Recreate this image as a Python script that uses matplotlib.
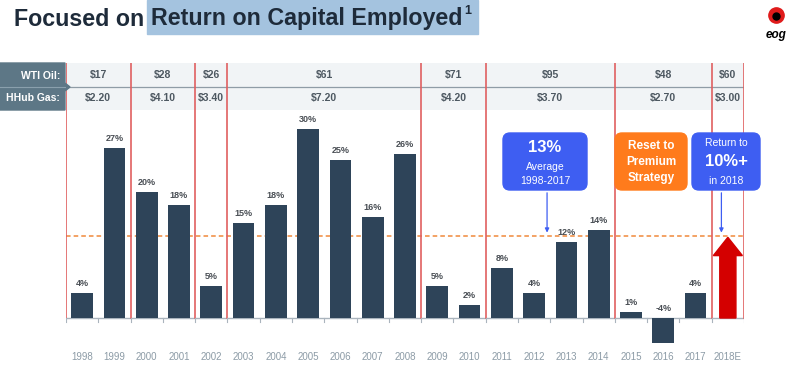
import matplotlib
matplotlib.use('Agg')
import matplotlib.pyplot as plt
from matplotlib.patches import FancyBboxPatch, Rectangle, Polygon

plt.rcParams['font.family'] = ['Liberation Sans', 'DejaVu Sans']

# ---- data ----
years = ['1998', '1999', '2000', '2001', '2002', '2003', '2004', '2005', '2006', '2007',
         '2008', '2009', '2010', '2011', '2012', '2013', '2014', '2015', '2016', '2017', '2018E']
roce = [4, 27, 20, 18, 5, 15, 18, 30, 25, 16, 26, 5, 2, 8, 4, 12, 14, 1, -4, 4]
roce_2018_target = 12.8
average_roce = 13

# price regimes: first year index of each group (last entry = end)
group_edges = [0, 2, 4, 5, 11, 13, 17, 20, 21]
wti_oil = ['$17', '$28', '$26', '$61', '$71', '$95', '$48', '$60']
hhub_gas = ['$2.20', '$4.10', '$3.40', '$7.20', '$4.20', '$3.70', '$2.70', '$3.00']

W, H = 805, 367
fig = plt.figure(figsize=(W / 100, H / 100), dpi=100)

def fx(x):
    return x / W

def fy(y):
    return 1 - y / H

BAR = '#2e4459'
RED_LINE = '#e06060'
LABEL = '#4a4f55'
NAVY = '#1e2b3a'

# ---- main bar axes ----
ax = fig.add_axes([fx(66), fy(348), fx(744) - fx(66), fy(110) - fy(348)])
x = list(range(len(years)))
ax.bar(x[:-1], roce, width=0.67, color=BAR, zorder=2)
for xi, v in zip(x, roce):
    ax.text(xi, max(v, 0) + 0.8, f'{v}%', ha='center', va='bottom',
            fontsize=6.5, fontweight='bold', color=LABEL)

# 2018E arrow
ax.arrow(x[-1], 0, 0, roce_2018_target, width=0.5, head_width=0.9,
         head_length=2.9, length_includes_head=True, color='#d40000', zorder=3)

ax.set_xlim(-0.5, len(years) - 0.5)
ax.set_ylim(-4.76, 33.0)
ax.axhline(0, color='#aab4bd', lw=1, zorder=1)
ax.axhline(average_roce, color='#f0893a', ls=(0, (3, 2)), lw=1.1, zorder=1)
for b in range(len(years) + 1):
    ax.plot([b - 0.5, b - 0.5], [0, -0.6], color='#aab4bd', lw=0.8)
for e in group_edges:
    ax.plot([e - 0.5, e - 0.5], [0, 33.0], color=RED_LINE, lw=1.2, zorder=1)

ax.set_xticks(x)
ax.set_xticklabels(years, fontsize=7, color='#8c9ba6')
ax.tick_params(axis='x', length=0, pad=3)
ax.set_yticks([])
for s in ax.spines.values():
    s.set_visible(False)

# ---- price header ----
hx = fig.add_axes([fx(66), fy(110), fx(744) - fx(66), fy(63) - fy(110)])
hx.set_xlim(-0.5, len(years) - 0.5)
hx.set_ylim(0, 2)
hx.add_patch(Rectangle((-0.5, 0), len(years), 2, color='#f1f4f6', zorder=0))
hx.axhline(1, color='#8f9ca6', lw=0.9)
for e in group_edges:
    hx.axvline(e - 0.5, color=RED_LINE, lw=1.2)
for i in range(len(wti_oil)):
    c = (group_edges[i] + group_edges[i + 1] - 1) / 2
    hx.text(c, 1.5, wti_oil[i].replace('$', r'\$'), ha='center', va='center',
            fontsize=7.5, fontweight='bold', color='#4d5861')
    hx.text(c, 0.5, hhub_gas[i].replace('$', r'\$'), ha='center', va='center',
            fontsize=7.5, fontweight='bold', color='#4d5861')
hx.axis('off')

# ---- overlay in pixel coords for title, labels, callouts ----
ov = fig.add_axes([0, 0, 1, 1], zorder=5)
ov.set_xlim(0, W)
ov.set_ylim(H, 0)
ov.axis('off')
ov.patch.set_alpha(0)

# title: size so the full line spans ~448 px, then place the highlighted part after the first
renderer = fig.canvas.get_renderer()
probe = ov.text(0, 0, 'Focused on Return on Capital Employed', fontsize=20, fontweight='bold')
fs = 20 * 448 / probe.get_window_extent(renderer).width
probe.remove()
t1 = ov.text(14, 19, 'Focused on ', fontsize=fs, fontweight='bold', color=NAVY,
             va='center', ha='left')
w1 = t1.get_window_extent(renderer).width
t2 = ov.text(14 + w1, 19, 'Return on Capital Employed', fontsize=fs, fontweight='bold',
             color=NAVY, va='center', ha='left')
w2 = t2.get_window_extent(renderer).width
ov.add_patch(Rectangle((14 + w1 - 4, 0), w2 + 20, 34, color='#a4c3df', zorder=0))
ov.text(14 + w1 + w2 + 2, 11, '1', fontsize=fs * 0.55, fontweight='bold', color=NAVY,
        va='center', ha='left')

# logo
ov.plot([776], [15], marker='o', ms=11, color='#e01b1b')
ov.plot([776], [16], marker='o', ms=5, color='black')
ov.text(776, 35, 'eog', fontsize=8.5, fontweight='bold', style='italic', ha='center',
        va='center', color='black')

# left header label box
ov.add_patch(Polygon([(0, 63), (65, 63), (65, 83), (70, 87), (65, 91), (65, 110), (0, 110)],
                     closed=True, color='#5d7786'))
ov.plot([0, 65], [87, 87], color='#8aa0ad', lw=0.8)
ov.text(60, 76, 'WTI Oil:', fontsize=7.5, fontweight='bold', color='white', ha='right', va='center')
ov.text(60, 98, 'HHub Gas:', fontsize=7.5, fontweight='bold', color='white', ha='right', va='center')

# callouts
BLUE = '#3e5ef2'
ORANGE = '#ff7b1c'
for (x0, x1, col) in [(503, 587, BLUE), (615, 687, ORANGE), (692, 760, BLUE)]:
    ov.add_patch(FancyBboxPatch((x0, 133), x1 - x0, 57,
                                boxstyle='round,pad=0,rounding_size=7', color=col))
ov.text(545, 148, '13%', fontsize=12, fontweight='bold', color='white', ha='center', va='center')
ov.text(545, 167, 'Average', fontsize=7.5, color='white', ha='center', va='center')
ov.text(545, 181, '1998-2017', fontsize=7.5, color='white', ha='center', va='center')
ov.text(651, 146, 'Reset to', fontsize=8.5, fontweight='bold', color='white', ha='center', va='center')
ov.text(651, 162, 'Premium', fontsize=8.5, fontweight='bold', color='white', ha='center', va='center')
ov.text(651, 178, 'Strategy', fontsize=8.5, fontweight='bold', color='white', ha='center', va='center')
ov.text(726, 143, 'Return to', fontsize=7.5, color='white', ha='center', va='center')
ov.text(726, 162, '10%+', fontsize=12, fontweight='bold', color='white', ha='center', va='center')
ov.text(726, 181, 'in 2018', fontsize=7.5, color='white', ha='center', va='center')

# callout pointers into the data axes
for px in (14.4, 19.8):
    ax.annotate('', xy=(px, average_roce + 0.1), xytext=(px, 20.3),
                arrowprops=dict(arrowstyle='-|>', color=BLUE, lw=0.9, mutation_scale=6),
                annotation_clip=False)

fig.savefig('out.png', dpi=100)
